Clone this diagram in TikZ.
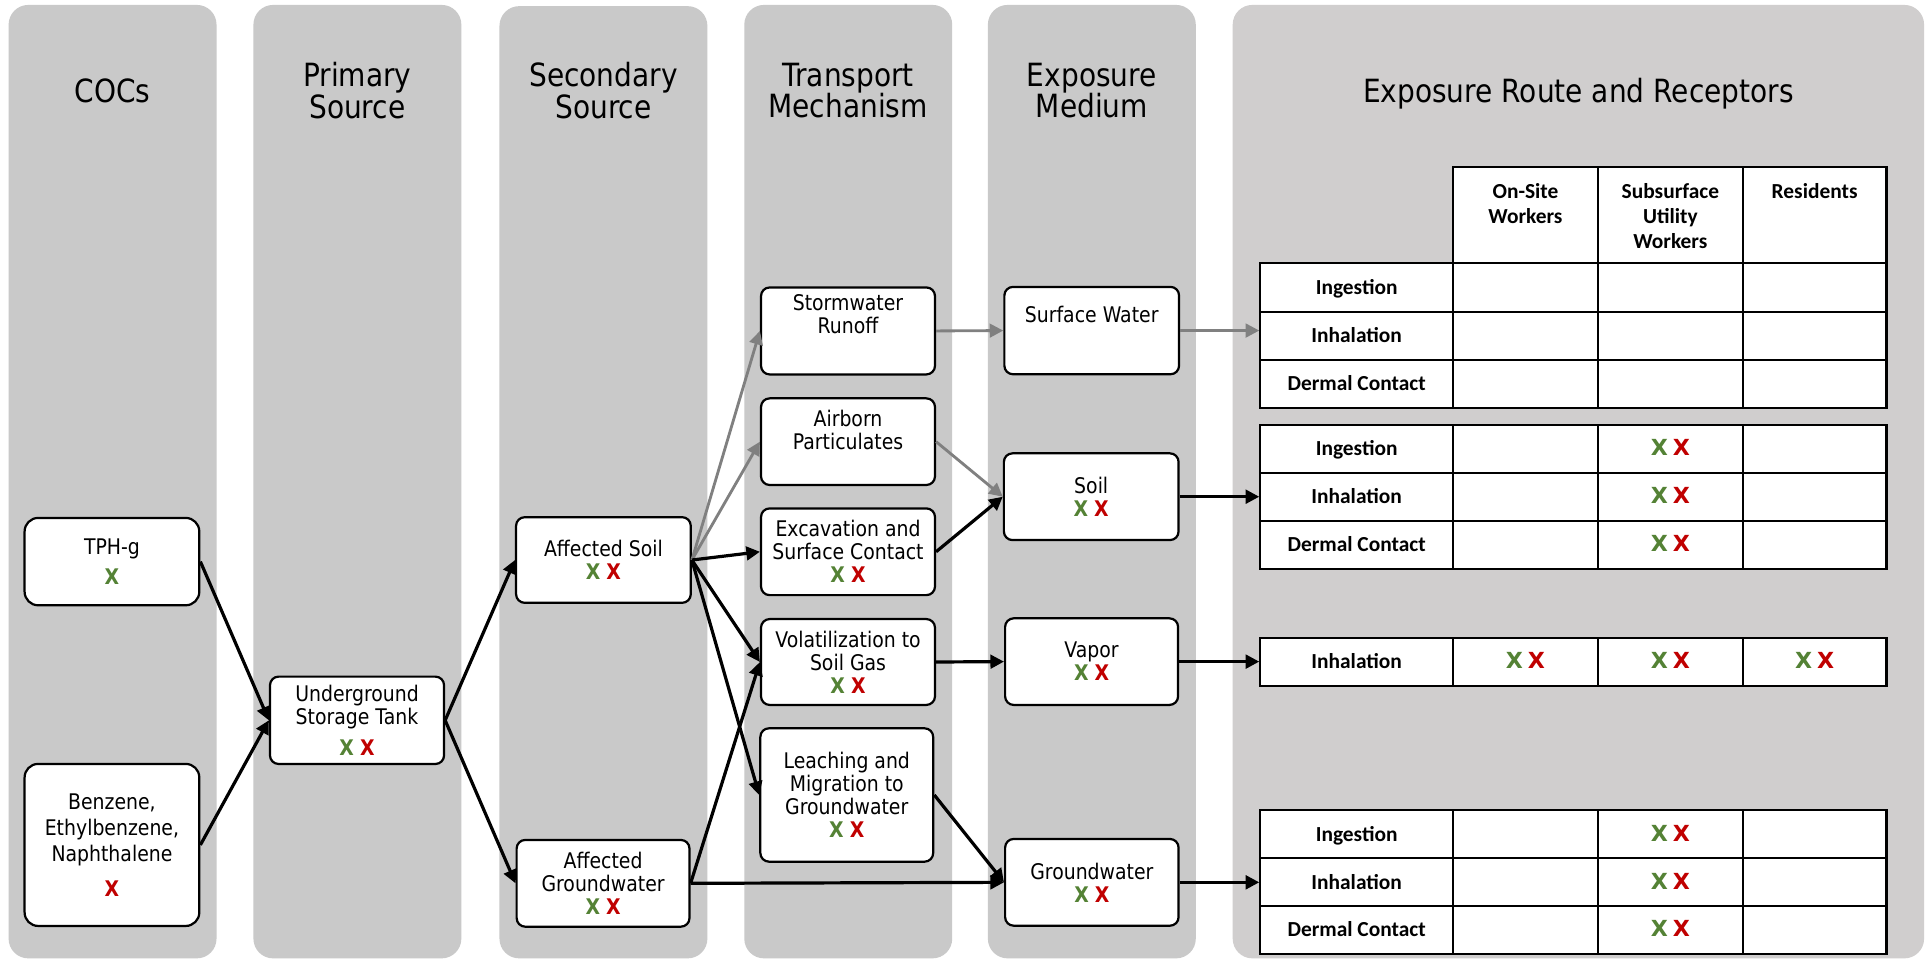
\documentclass[tikz,border=0pt]{standalone}
\usepackage{fontspec}
\setmainfont{DejaVu Sans}
\newfontfamily\tahfont{DejaVu Sans}[FakeStretch=0.876]
\newfontfamily\djvfont{DejaVu Sans}
\newfontfamily\calfont{Carlito}
\usetikzlibrary{arrows.meta}
\definecolor{panelgray}{RGB}{201,201,201}
\definecolor{routegray}{RGB}{208,206,206}
\definecolor{xgreen}{RGB}{84,130,53}
\definecolor{xred}{RGB}{192,0,0}
\definecolor{arrgray}{RGB}{128,128,128}
\newcommand\gX{\textcolor{xgreen}{\bfseries X}}
\newcommand\rX{\textcolor{xred}{\bfseries X}}
\newcommand\XX{\gX\ \rX}
\newcommand\tX{{\djvfont\bfseries\fontsize{18}{20}\selectfont\textcolor{xgreen}{X}\hspace{4pt}\textcolor{xred}{X}}}
\newcommand\trow[7]{%
  \node[cell, minimum width=156.5pt, minimum height={(#3-#2)*1pt}] (#1x0) at (1102.75,{(#2+#3)/2}) {#4};
  \node[cell, minimum width=118pt, minimum height={(#3-#2)*1pt}] (#1x1) at (1240,{(#2+#3)/2}) {#5};
  \node[cell, minimum width=117.5pt, minimum height={(#3-#2)*1pt}] (#1x2) at (1357.75,{(#2+#3)/2}) {#6};
  \node[cell, minimum width=117pt, minimum height={(#3-#2)*1pt}] (#1x3) at (1475,{(#2+#3)/2}) {#7};
}
\begin{document}
\begin{tikzpicture}[x=1pt,y=-1pt,
  box/.style={draw, line width=1.8pt, rounded corners=7pt, fill=white, inner sep=0pt, align=center,
    font=\tahfont\fontsize{17.5}{18.7}\selectfont, minimum width=142pt, minimum height=71pt},
  cocbox/.style={box, rounded corners=11pt, font=\tahfont\fontsize{17.5}{21}\selectfont},
  boxtext/.style={align=center, inner sep=0pt, font=\tahfont\fontsize{17.5}{18.7}\selectfont},
  title/.style={align=center, inner sep=0pt, font=\tahfont\fontsize{26}{25.5}\selectfont},
  conn/.style={line width=2.6pt, -{Triangle[length=11pt,width=11pt]}},
  gconn/.style={conn, line width=2.3pt, draw=arrgray},
  cell/.style={draw, line width=1.8pt, fill=white, inner sep=0pt,
    font=\calfont\bfseries\fontsize{17.4}{20}\selectfont, text height=11.2pt, text depth=0pt},
  htext/.style={anchor=base, inner sep=0pt, font=\calfont\bfseries\fontsize{17.4}{20}\selectfont},
  panel/.style={fill=panelgray, rounded corners=16pt}
]
\fill[white] (0,0) rectangle (1568,782);
\useasboundingbox (0,0) rectangle (1568,782);

% column panels
\fill[panel] (7,4) rectangle (176,779);
\fill[panel] (206,4) rectangle (375,779);
\fill[panel] (406,5) rectangle (575,779);
\fill[panel] (605,4) rectangle (774,779);
\fill[panel] (803,4) rectangle (972,779);
\fill[panel, fill=routegray] (1002,4) rectangle (1564,779);

% titles
\node[title] (tcoc) at (91.5,73.7) {COCs};
\node[title] (tprim) at (290.5,73.5) {Primary\\Source};
\node[title] (tsec) at (490.5,73.5) {Secondary\\Source};
\node[title] (ttra) at (689.4,73.5) {Transport\\Mechanism};
\node[title] (tmed) at (887.5,73.5) {Exposure\\Medium};
\node[title, anchor=base] (troute) at (1283,83.2) {Exposure Route and Receptors};

% boxes
\node[cocbox] (tph) at (91,456.5) {TPH-g\\[3pt]\gX};
\node[cocbox, minimum height=131.7pt] (benz) at (91,686.8) {Benzene,\\Ethylbenzene,\\Naphthalene\\[7.5pt]\rX};
\node[box, minimum width=141.5pt] (ust) at (290.2,585.5) {Underground\\Storage Tank\\[7pt]\XX};
\node[box, minimum height=69.6pt] (asoil) at (490.5,455.2) {Affected Soil\\\XX};
\node[box, minimum width=140.5pt, minimum height=70.5pt] (agw) at (490.2,718) {Affected\\Groundwater\\\XX};
\node[box, minimum width=141.4pt, minimum height=70.7pt] (storm) at (689.3,269) {};
\node[boxtext] (stormt) at (689.3,255.5) {Stormwater\\Runoff};
\node[box, minimum width=141.4pt, minimum height=70.4pt] (air) at (689.3,359) {};
\node[boxtext] (airt) at (689.3,349.1) {Airborn\\Particulates};
\node[box, minimum width=141.4pt, minimum height=70.5pt] (exc) at (689.3,448.5) {Excavation and\\Surface Contact\\\XX};
\node[box, minimum width=141.4pt, minimum height=69.8pt] (vol) at (689.3,538.1) {Volatilization to\\Soil Gas\\\XX};
\node[box, minimum width=140.5pt, minimum height=108.4pt] (leach) at (688.3,646.2) {Leaching and\\Migration to\\Groundwater\\\XX};
\node[box] (sw) at (887.4,268.7) {};
\node[boxtext] (swt) at (887.4,255.3) {Surface Water};
\node[box, minimum height=70.5pt] (soil) at (887,403.75) {Soil\\\XX};
\node[box, minimum width=140.6pt, minimum height=70.4pt] (vapor) at (887.3,537.8) {Vapor\\\XX};
\node[box, minimum width=141pt, minimum height=70.5pt] (gw) at (887.5,717.2) {Groundwater\\\XX};

% table 1 (surface water)
\node[cell, minimum width=118pt, minimum height=78pt] (h1) at (1240,175) {};
\node[cell, minimum width=117.5pt, minimum height=78pt] (h2) at (1357.75,175) {};
\node[cell, minimum width=117pt, minimum height=78pt] (h3) at (1475,175) {};
\node[htext] (ho1) at (1240,161.4) {On-Site};
\node[htext] (ho2) at (1240,181.7) {Workers};
\node[htext] (hs1) at (1357.75,161.4) {Subsurface};
\node[htext] (hs2) at (1357.75,181.7) {Utility};
\node[htext] (hs3) at (1357.75,202.1) {Workers};
\node[htext] (hr1) at (1475,161.4) {Residents};
\trow{ta}{214}{253.3}{Ingestion}{}{}{}
\trow{tb}{253.3}{292.6}{Inhalation}{}{}{}
\trow{tc}{292.6}{331.4}{Dermal Contact}{}{}{}
% table 2 (soil)
\trow{sa}{345.5}{384.2}{Ingestion}{}{\tX}{}
\trow{sb}{384.2}{423.2}{Inhalation}{}{\tX}{}
\trow{sc}{423.2}{462.5}{Dermal Contact}{}{\tX}{}
% table 3 (vapor)
\trow{va}{518.3}{557.6}{Inhalation}{\tX}{\tX}{\tX}
% table 4 (groundwater)
\trow{ga}{658.4}{697.7}{Ingestion}{}{\tX}{}
\trow{gb}{697.7}{736.5}{Inhalation}{}{\tX}{}
\trow{gc}{736.5}{775.5}{Dermal Contact}{}{\tX}{}

% connectors
\draw[conn] (tph.east) -- (ust.west);
\draw[conn] (benz.east) -- (ust.west);
\draw[conn] (ust.east) -- (asoil.west);
\draw[conn] (ust.east) -- (agw.west);
\draw[gconn] (asoil.east) -- (storm.west);
\draw[gconn] (asoil.east) -- (air.west);
\draw[conn] (asoil.east) -- (exc.west);
\draw[conn] (asoil.east) -- (vol.west);
\draw[conn] (asoil.east) -- (leach.west);
\draw[conn] (agw.east) -- (vol.west);
\draw[conn] (agw.east) -- (gw.west);
\draw[gconn] (storm.east) -- (sw.west);
\draw[gconn] (air.east) -- (soil.west);
\draw[conn] (exc.east) -- (soil.west);
\draw[conn] (vol.east) -- (vapor.west);
\draw[conn] (leach.east) -- (gw.west);
\draw[gconn] (sw.east) -- (sw.east -| tbx0.west);
\draw[conn] (soil.east) -- (soil.east -| sbx0.west);
\draw[conn] (vapor.east) -- (vapor.east -| vax0.west);
\draw[conn] (gw.east) -- (gw.east -| gbx0.west);
\end{tikzpicture}
\end{document}
